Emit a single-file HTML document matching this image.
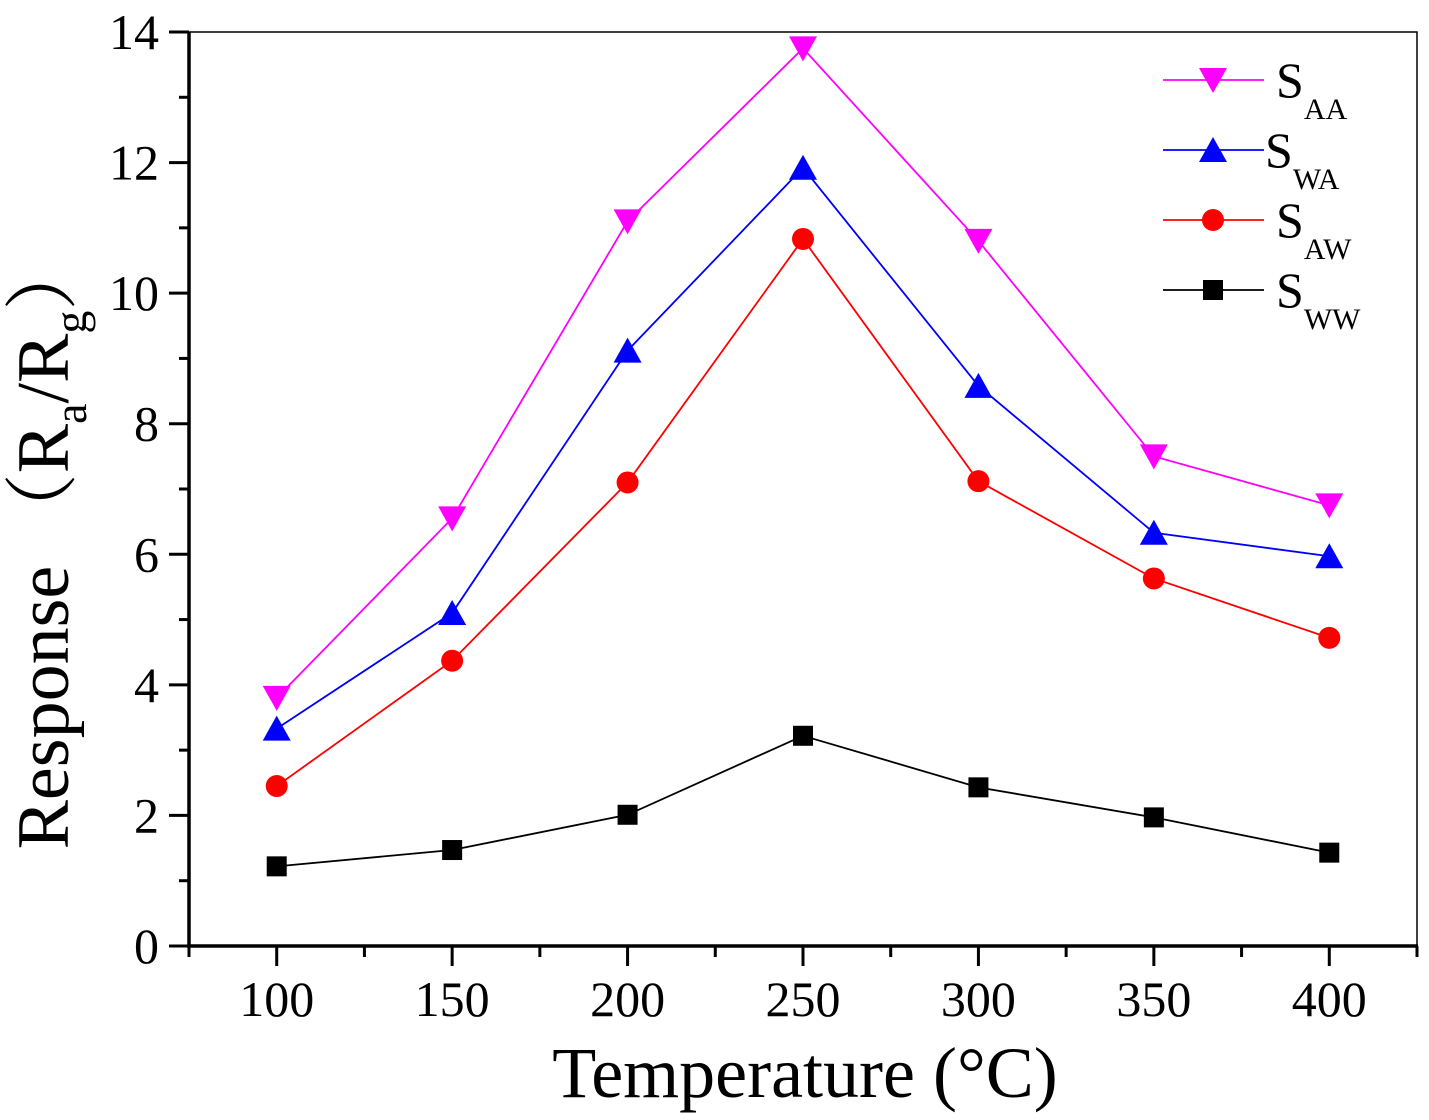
<!DOCTYPE html>
<html><head><meta charset="utf-8"><style>
html,body{margin:0;padding:0;background:#fff;}
svg{display:block;font-family:"Liberation Serif","Noto Serif CJK SC",serif;}
</style></head><body>
<svg id="chart" width="1429" height="1120" viewBox="0 0 1429 1120" xmlns="http://www.w3.org/2000/svg"></svg>
<script>
const temps=[100,150,200,250,300,350,400];
const sAA=[3.8,6.55,11.1,13.75,10.8,7.5,6.75];
const sWA=[3.33,5.1,9.12,11.92,8.58,6.33,5.97];
const sAW=[2.45,4.37,7.1,10.83,7.12,5.63,4.72];
const sWW=[1.22,1.47,2.01,3.22,2.43,1.97,1.43];
const xTicks=[100,150,200,250,300,350,400];
const yTicks=[0,2,4,6,8,10,12,14];

const L=189,R=1417,T=32,B=946;
const X0=75,X1=425,Y0=0,Y1=14;
function sx(v){return L+(v-X0)/(X1-X0)*(R-L);}
function sy(v){return B-(v-Y0)/(Y1-Y0)*(B-T);}
const svg=document.getElementById('chart');
const NS='http://www.w3.org/2000/svg';
function el(tag,attrs,parent){const e=document.createElementNS(NS,tag);for(const k in attrs)e.setAttribute(k,attrs[k]);(parent||svg).appendChild(e);return e;}

let f=el('rect',{x:L,y:T,width:R-L,height:B-T,fill:'none',stroke:'#000','stroke-width':1.5});


let ax=el('line',{x1:L,y1:T,x2:L,y2:B+1.5,stroke:'#000','stroke-width':3.5});


let bx=el('line',{x1:L-2,y1:B,x2:R+1,y2:B,stroke:'#000','stroke-width':3.5});



for(let v=75;v<=425;v+=25){
  const major=xTicks.includes(v);
  const t=el('line',{x1:sx(v),y1:B,x2:sx(v),y2:B+(major?20:11),stroke:'#000','stroke-width':3});
  
  
}
xTicks.forEach(v=>{
  const t=el('text',{x:sx(v),y:1016,'text-anchor':'middle','font-size':50});
  t.textContent=v;
  
  
});
for(let v=0;v<=14;v+=1){
  const major=v%2===0;
  const t=el('line',{x1:L-(major?20:10),y1:sy(v),x2:L,y2:sy(v),stroke:'#000','stroke-width':3});
  
  
}
yTicks.forEach(v=>{
  const t=el('text',{x:159,y:sy(v)+17,'text-anchor':'end','font-size':50});
  t.textContent=v;
  
  
});
let xt=el('text',{x:805,y:1097,'text-anchor':'middle','font-size':72});
xt.textContent='Temperature (°C)';


let yt=el('text',{transform:'translate(68,543) rotate(-90)','text-anchor':'middle','font-size':74});
yt.innerHTML='Response （R<tspan font-size="46" dy="18">a</tspan><tspan dy="-18">/R</tspan><tspan font-size="46" dy="18">g</tspan><tspan dy="-18">）</tspan>';



function marker(type,cx,cy,color,name){
  let m;
  if(type==='down') m=el('polygon',{points:`${cx-14},${cy-12} ${cx+14},${cy-12} ${cx},${cy+13}`,fill:color});
  else if(type==='up') m=el('polygon',{points:`${cx-14},${cy+12} ${cx+14},${cy+12} ${cx},${cy-13}`,fill:color});
  else if(type==='circle') m=el('circle',{cx:cx,cy:cy,r:11,fill:color});
  else m=el('rect',{x:cx-10,y:cy-10,width:20,height:20,fill:color});
  
  
}
const series=[
  {vals:sWW,color:'#000',type:'square',name:'sww'},
  {vals:sAW,color:'#ff0000',type:'circle',name:'saw'},
  {vals:sWA,color:'#0000ff',type:'up',name:'swa'},
  {vals:sAA,color:'#ff00ff',type:'down',name:'saa'}
];
series.forEach(s=>{
  const pts=s.vals.map((v,i)=>sx(temps[i])+','+sy(v)).join(' ');
  const p=el('polyline',{points:pts,fill:'none',stroke:s.color,'stroke-width':1.8});
  
  
  s.vals.forEach((v,i)=>marker(s.type,sx(temps[i]),sy(v),s.color,s.name+'-point'));
});

const leg=[
  {y:80,color:'#ff00ff',type:'down',main:'S',sub:'AA',tx:1276,name:'legend-entry-saa'},
  {y:150,color:'#0000ff',type:'up',main:'S',sub:'WA',tx:1265,name:'legend-entry-swa'},
  {y:220,color:'#ff0000',type:'circle',main:'S',sub:'AW',tx:1276,name:'legend-entry-saw'},
  {y:290,color:'#000',type:'square',main:'S',sub:'WW',tx:1276,name:'legend-entry-sww'}
];
leg.forEach(e=>{
  const g=el('g',{});
  
  
  el('line',{x1:1163,y1:e.y,x2:1264,y2:e.y,stroke:e.color,'stroke-width':1.8},g);
  marker(e.type,1213,e.y,e.color,'legend-marker');
  const t=el('text',{x:e.tx,y:e.y+17,'font-size':50},g);
  t.innerHTML=e.main+'<tspan font-size="30" dy="22">'+e.sub+'</tspan>';
});
</script>
</body></html>
